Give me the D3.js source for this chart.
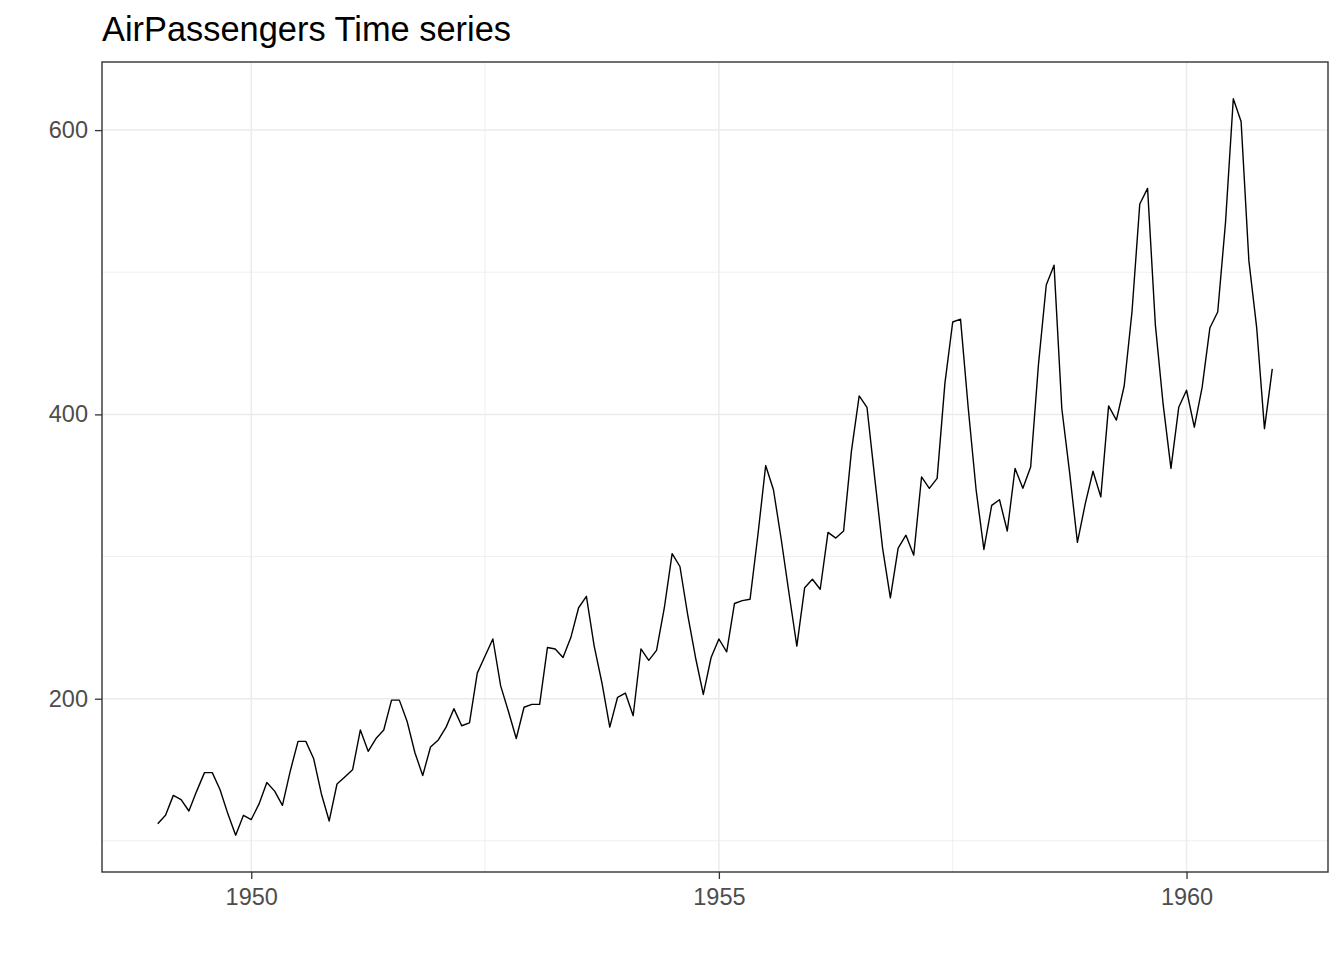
<!DOCTYPE html>
<html lang="en">
<head>
	<meta charset="UTF-8">
	<title>AirPassengers Time series</title>
	<script src="https://cdn.jsdelivr.net/npm/d3@7"></script>
	<style>
		body { margin: 0; background: #fff; }
		text { font-family: "Liberation Sans", Arial, sans-serif; }
	</style>
</head>
<body>
	<div id="vis"></div>

	<script>
		// monthly passengers (thousands), one array per year
		var startYear = 1949;
		var passengers = [
			[112, 118, 132, 129, 121, 135, 148, 148, 136, 119, 104, 118],
			[115, 126, 141, 135, 125, 149, 170, 170, 158, 133, 114, 140],
			[145, 150, 178, 163, 172, 178, 199, 199, 184, 162, 146, 166],
			[171, 180, 193, 181, 183, 218, 230, 242, 209, 191, 172, 194],
			[196, 196, 236, 235, 229, 243, 264, 272, 237, 211, 180, 201],
			[204, 188, 235, 227, 234, 264, 302, 293, 259, 229, 203, 229],
			[242, 233, 267, 269, 270, 315, 364, 347, 312, 274, 237, 278],
			[284, 277, 317, 313, 318, 374, 413, 405, 355, 306, 271, 306],
			[315, 301, 356, 348, 355, 422, 465, 467, 404, 347, 305, 336],
			[340, 318, 362, 348, 363, 435, 491, 505, 404, 359, 310, 337],
			[360, 342, 406, 396, 420, 472, 548, 559, 463, 407, 362, 405],
			[417, 391, 419, 461, 472, 535, 622, 606, 508, 461, 390, 432]
		];
		var xTicks = [1950, 1955, 1960];
		var xMinor = [1952.5, 1957.5];
		var yTicks = [200, 400, 600];
		var yMinor = [100, 300, 500];

		var width = 1344;
		var height = 960;
		var margin = {top: 62, right: 16, bottom: 88, left: 102};
		var innerW = width - margin.left - margin.right;
		var innerH = height - margin.top - margin.bottom;

		// flatten into (time, value) points
		var data = [];
		passengers.forEach(function(row, i) {
			row.forEach(function(v, m) {
				data.push({t: startYear + i + m / 12, v: v});
			});
		});

		// ggplot-style 5% expansion on both axes
		var tExt = d3.extent(data, function(d) { return d.t; });
		var vExt = d3.extent(data, function(d) { return d.v; });
		var tPad = (tExt[1] - tExt[0]) * 0.05;
		var vPad = (vExt[1] - vExt[0]) * 0.05;

		var x = d3.scaleLinear()
			.domain([tExt[0] - tPad, tExt[1] + tPad])
			.range([0, innerW]);
		var y = d3.scaleLinear()
			.domain([vExt[0] - vPad, vExt[1] + vPad])
			.range([innerH, 0]);

		var svg = d3.select("#vis").append("svg")
			.attr("width", width)
			.attr("height", height);

		svg.append("text")
			.attr("x", margin.left)
			.attr("y", 41)
			.attr("font-size", 34.4)
			.attr("fill", "#000")
			.text("AirPassengers Time series");

		var g = svg.append("g")
			.attr("transform", "translate(" + margin.left + "," + margin.top + ")");

		// minor grid
		g.selectAll(".xminor").data(xMinor).enter().append("line")
			.attr("x1", function(d) { return x(d); })
			.attr("x2", function(d) { return x(d); })
			.attr("y1", 0).attr("y2", innerH)
			.attr("stroke", "#ebebeb").attr("stroke-width", 0.8);
		g.selectAll(".yminor").data(yMinor).enter().append("line")
			.attr("y1", function(d) { return y(d); })
			.attr("y2", function(d) { return y(d); })
			.attr("x1", 0).attr("x2", innerW)
			.attr("stroke", "#ebebeb").attr("stroke-width", 0.8);

		// major grid
		g.selectAll(".xmajor").data(xTicks).enter().append("line")
			.attr("x1", function(d) { return x(d); })
			.attr("x2", function(d) { return x(d); })
			.attr("y1", 0).attr("y2", innerH)
			.attr("stroke", "#ebebeb").attr("stroke-width", 1.5);
		g.selectAll(".ymajor").data(yTicks).enter().append("line")
			.attr("y1", function(d) { return y(d); })
			.attr("y2", function(d) { return y(d); })
			.attr("x1", 0).attr("x2", innerW)
			.attr("stroke", "#ebebeb").attr("stroke-width", 1.5);

		// the series
		var line = d3.line()
			.x(function(d) { return x(d.t); })
			.y(function(d) { return y(d.v); });

		g.append("path")
			.datum(data)
			.attr("fill", "none")
			.attr("stroke", "#000")
			.attr("stroke-width", 1.4)
			.attr("stroke-linejoin", "round")
			.attr("d", line);

		// axes
		var xAxis = g.append("g")
			.attr("transform", "translate(0," + innerH + ")")
			.call(d3.axisBottom(x).tickValues(xTicks).tickFormat(d3.format("d"))
				.tickSize(7).tickPadding(9));
		var yAxis = g.append("g")
			.call(d3.axisLeft(y).tickValues(yTicks).tickSize(7).tickPadding(7));

		[xAxis, yAxis].forEach(function(a) {
			a.select(".domain").remove();
			a.selectAll(".tick line").attr("stroke", "#333").attr("stroke-width", 1.3);
			a.selectAll(".tick text")
				.attr("font-size", 23.5)
				.attr("fill", "#4d4d4d")
				.style("font-family", "'Liberation Sans', Arial, sans-serif");
		});

		// panel border
		g.append("rect")
			.attr("x", 0).attr("y", 0)
			.attr("width", innerW).attr("height", innerH)
			.attr("fill", "none")
			.attr("stroke", "#333")
			.attr("stroke-width", 1.4);
	</script>
</body>
</html>
